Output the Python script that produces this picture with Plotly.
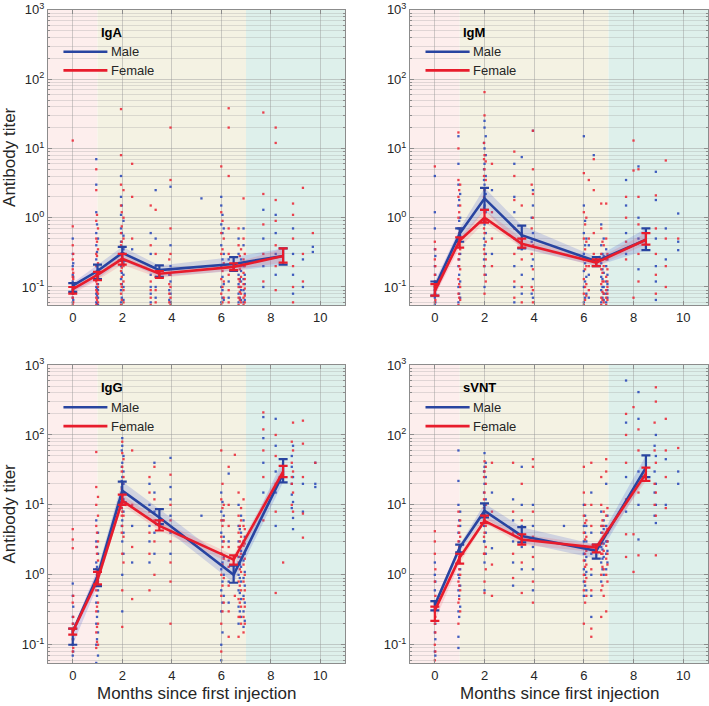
import plotly.graph_objects as go

# ---------------- data ----------------
MONTHS = [0, 1, 2, 3.5, 6.5, 8.5]
PANEL_NAMES = ["IgA", "IgM", "IgG", "sVNT"]

# geometric means (and CI bounds) per sex
IGA_MALE = [0.105, 0.17, 0.31, 0.175, 0.215, 0.28]
IGA_MALE_LO = [0.085, 0.13, 0.24, 0.14, 0.17, 0.21]
IGA_MALE_HI = [0.114, 0.21, 0.38, 0.205, 0.27, 0.36]
IGA_FEMALE = [0.093, 0.15, 0.255, 0.155, 0.195, 0.28]
IGA_FEMALE_LO = [0.08, 0.125, 0.21, 0.135, 0.175, 0.225]
IGA_FEMALE_HI = [0.1, 0.165, 0.30, 0.17, 0.22, 0.36]

IGM_MALE = [0.1, 0.59, 1.9, 0.56, 0.235, 0.48]
IGM_MALE_LO = [0.075, 0.45, 1.3, 0.36, 0.2, 0.34]
IGM_MALE_HI = [0.12, 0.7, 2.7, 0.77, 0.27, 0.7]
IGM_FEMALE = [0.088, 0.47, 1.0, 0.42, 0.225, 0.48]
IGM_FEMALE_LO = [0.075, 0.37, 0.85, 0.37, 0.2, 0.41]
IGM_FEMALE_HI = [0.11, 0.52, 1.3, 0.5, 0.25, 0.6]

IGG_MALE = [0.155, 0.95, 16.0, 6.6, 1.0, 28.0]
IGG_MALE_LO = [0.1, 0.69, 10.9, 5.3, 0.77, 21.0]
IGG_MALE_HI = [0.17, 1.2, 21.5, 8.7, 1.35, 45.0]
IGG_FEMALE = [0.155, 0.85, 11.5, 5.0, 1.65, 30.0]
IGG_FEMALE_LO = [0.14, 0.73, 10.0, 4.3, 1.4, 25.0]
IGG_FEMALE_HI = [0.17, 1.1, 14.0, 6.0, 1.9, 36.0]

SVNT_MALE = [0.37, 2.45, 8.2, 3.6, 2.2, 34.0]
SVNT_MALE_LO = [0.31, 2.1, 6.6, 2.9, 1.7, 25.0]
SVNT_MALE_HI = [0.42, 2.7, 10.5, 4.8, 2.7, 51.0]
SVNT_FEMALE = [0.31, 1.76, 5.9, 3.2, 2.45, 28.0]
SVNT_FEMALE_LO = [0.22, 1.45, 5.5, 2.7, 2.1, 22.0]
SVNT_FEMALE_HI = [0.35, 2.0, 7.0, 3.8, 2.7, 34.0]

# individual measurements, grouped by sampling column (x positions)
IGA_COL_X = [0, 0.95, 1.95, 2.4, 3.15, 3.35, 3.95, 5.2, 6.0, 6.3, 6.7, 6.9, 7.7, 8.2, 8.9, 9.3, 9.7,
             1.02, 2.05, 6.05, 6.8, 0.02, 0.98, 1.98, 6.1, 6.75, 6.95, 3.9]
IGA_MALE_PTS = [
    [0.06, 0.08, 0.1, 0.12, 0.15, 0.2, 0.3, 0.5, 0.07],
    [0.06, 0.08, 0.1, 0.15, 0.25, 0.4, 0.6, 1.2, 3, 7],
    [0.06, 0.09, 0.13, 0.2, 0.3, 0.45, 0.7, 1.1, 2, 4],
    [0.35],
    [0.06, 0.08, 0.1, 0.15, 0.3, 0.6],
    [0.07, 0.1, 0.2, 0.5, 2.5],
    [0.06, 0.08, 0.12, 0.2, 0.4, 2.8],
    [1.9],
    [0.06, 0.1, 0.2, 0.4, 0.8, 1.5, 2],
    [0.07, 0.12, 0.25],
    [0.06, 0.08, 0.11, 0.15, 0.3, 0.5],
    [0.06, 0.09, 0.13, 0.2, 0.4, 0.7],
    [0.1, 0.2, 0.5, 1.3],
    [0.15, 0.3, 0.6, 1.1],
    [0.08, 0.15, 0.3, 0.7],
    [0.1, 0.25],
    [0.38, 0.32],
    [0.055, 0.07, 0.09, 0.11, 0.13, 0.18, 0.5],
    [0.065, 0.1, 0.15, 0.22, 0.35, 0.55, 0.9],
    [0.07, 0.09, 0.14, 0.25, 0.6, 1.1],
    [0.065, 0.09, 0.12, 0.17, 0.25],
    [0.065, 0.09, 0.11, 0.14, 0.22],
    [0.058, 0.075, 0.095, 0.13, 0.2, 0.32, 0.8],
    [0.07, 0.11, 0.16, 0.24, 0.38, 0.6, 1.5],
    [0.065, 0.11, 0.3, 0.7],
    [0.07, 0.1, 0.13, 0.2],
    [0.065, 0.08, 0.11, 0.15],
    [0.065, 0.09, 0.15],
]
IGA_FEMALE_PTS = [
    [0.055, 0.07, 0.09, 0.11, 0.14, 0.18, 0.25, 0.4, 0.75, 13],
    [0.055, 0.07, 0.09, 0.12, 0.2, 0.3, 0.5, 0.9, 2.5, 5],
    [0.055, 0.08, 0.11, 0.17, 0.25, 0.4, 0.6, 1.5, 3, 8, 37],
    [0.5, 2, 6],
    [0.055, 0.07, 0.09, 0.12, 0.2, 0.4, 1.5],
    [0.06, 0.09, 0.14, 0.3, 1.3],
    [0.055, 0.07, 0.1, 0.15, 0.3, 0.7, 3.5, 20],
    [],
    [0.055, 0.08, 0.13, 0.3, 0.6, 1.2, 5.5],
    [0.06, 0.09, 0.15, 0.3, 0.7, 4, 20, 38],
    [0.055, 0.07, 0.1, 0.13, 0.2, 0.4, 0.7],
    [0.055, 0.07, 0.11, 0.16, 0.25, 0.5, 1.9],
    [0.12, 0.3, 0.8, 2.2, 33],
    [0.09, 0.2, 0.4, 0.9, 1.8, 12, 20],
    [0.06, 0.1, 0.2, 0.5, 1.1, 1.6],
    [0.12, 0.3, 2.7],
    [0.6],
    [0.06, 0.08, 0.1, 0.14, 0.17, 0.22, 0.35, 0.7],
    [0.06, 0.09, 0.12, 0.2, 0.3, 0.5, 1.0, 2.5],
    [0.06, 0.1, 0.17, 0.35, 0.9],
    [0.06, 0.08, 0.1, 0.14, 0.2, 0.35],
    [0.06, 0.08, 0.1, 0.13, 0.16, 0.3],
    [0.065, 0.085, 0.11, 0.16, 0.28, 0.45, 1.1],
    [0.065, 0.1, 0.14, 0.19, 0.28, 0.45, 0.75, 1.2],
    [0.07, 0.12, 0.22, 0.5],
    [0.065, 0.085, 0.12, 0.18, 0.28],
    [0.06, 0.075, 0.095, 0.13, 0.2, 0.3],
    [0.06, 0.08, 0.11, 0.18, 0.25],
]

IGM_COL_X = [0, 0.95, 2.0, 2.3, 3.2, 3.5, 3.95, 6.0, 6.2, 6.4, 6.7, 6.9, 7.7, 8.0, 8.2, 8.9, 9.3, 9.8,
             1.02, 2.05, 6.05, 6.8, 0.02, 0.98, 1.98, 6.1, 6.75, 6.95, 3.9]
IGM_MALE_PTS = [
    [0.055, 0.07, 0.09, 0.12, 0.2, 0.35, 0.7, 1.2, 4],
    [0.06, 0.1, 0.2, 0.4, 0.7, 1.5, 3, 6, 15],
    [0.1, 0.2, 0.4, 0.8, 1.5, 3, 6, 10, 20, 25],
    [0.3, 2.5],
    [0.06, 0.1, 0.2, 0.5, 1.2, 2, 6],
    [0.08, 0.15, 0.35, 7.5],
    [0.07, 0.13, 0.25, 0.6, 1.5, 2.5, 18],
    [0.06, 0.1, 0.17, 0.3, 0.6, 1.5, 15],
    [0.07, 0.15, 0.4],
    [8],
    [0.06, 0.09, 0.14, 0.22, 0.4, 0.8],
    [0.06, 0.08, 0.12, 0.2, 0.35],
    [0.3, 0.6, 1.5, 3.5],
    [],
    [0.18, 0.5, 1, 5.5],
    [0.065, 0.12, 0.2, 0.5, 1.8, 4.6],
    [0.25, 0.7],
    [1.15, 0.34, 0.45],
    [0.07, 0.12, 0.3, 0.55, 1, 2.2],
    [0.15, 0.3, 0.6, 1.2, 2.2, 4, 8, 15],
    [0.07, 0.12, 0.22, 0.4, 0.9],
    [0.065, 0.08, 0.1, 0.16, 0.28, 0.5],
    [0.06, 0.08, 0.1, 0.15, 0.28],
    [0.08, 0.15, 0.25, 0.5, 0.9, 1.8],
    [0.25, 0.5, 0.9, 1.8, 3.5, 5, 12],
    [0.08, 0.14, 0.25, 0.5],
    [0.07, 0.1, 0.13, 0.18, 0.3],
    [0.07, 0.09, 0.11, 0.15, 0.25],
    [0.08, 0.2, 0.45, 1],
]
IGM_FEMALE_PTS = [
    [0.06, 0.08, 0.1, 0.15, 0.25, 0.45, 5.5],
    [0.055, 0.08, 0.13, 0.25, 0.5, 1, 2, 3.5, 10, 17],
    [0.08, 0.15, 0.3, 0.6, 1.2, 2.5, 5, 8, 30, 65],
    [0.2, 0.5, 1.2, 6],
    [0.07, 0.12, 0.3, 0.7, 1.8, 4, 9],
    [0.06, 0.1, 0.25, 0.6, 1.5],
    [0.06, 0.09, 0.18, 0.4, 1, 2.2, 5, 18],
    [0.055, 0.08, 0.13, 0.25, 0.5, 1.2, 4.4],
    [0.09, 0.2, 0.5, 3.5],
    [0.3, 0.6, 2.5, 7],
    [0.055, 0.07, 0.11, 0.18, 0.3, 0.7, 1.6],
    [0.055, 0.07, 0.09, 0.14, 0.25, 0.5, 1.6],
    [0.25, 0.45, 1, 2],
    [13, 4.8, 0.07],
    [0.12, 0.3, 0.8, 2, 5],
    [0.08, 0.15, 0.3, 0.7, 2.1],
    [0.1, 0.2, 0.5, 6.7],
    [0.5],
    [0.065, 0.1, 0.18, 0.35, 0.7, 1.5, 3],
    [0.12, 0.25, 0.45, 0.9, 1.8, 3.5, 6.5],
    [0.065, 0.1, 0.18, 0.35, 0.8],
    [0.06, 0.08, 0.12, 0.2, 0.4],
    [0.065, 0.09, 0.12, 0.2, 0.35],
    [0.07, 0.11, 0.2, 0.3, 0.6, 1.2, 2.5],
    [0.2, 0.35, 0.7, 1.4, 2, 4, 7, 12],
    [0.075, 0.11, 0.2, 0.45, 1],
    [0.065, 0.085, 0.12, 0.16, 0.25, 0.45],
    [0.065, 0.08, 0.1, 0.12, 0.18, 0.3],
    [0.1, 0.3, 0.7, 3],
]

IGG_COL_X = [0, 0.95, 2.0, 2.4, 3.1, 3.3, 3.95, 5.2, 6.0, 6.3, 6.55, 6.7, 6.9, 7.7, 8.2, 8.5, 8.9, 9.3, 9.8,
             1.02, 2.05, 6.05, 6.8, 0.02, 0.98, 1.98, 6.1, 6.75, 6.95, 8.85]
IGG_MALE_PTS = [
    [0.07, 0.1, 0.15, 0.25, 0.5, 0.75],
    [0.055, 0.1, 0.2, 0.4, 0.8, 1.5, 3, 6],
    [0.3, 1, 3, 6, 10, 15, 25, 40, 70, 90],
    [1.5, 5],
    [1.5, 3, 5, 10, 20],
    [2, 4, 8, 15, 40],
    [2, 4, 7, 12, 18, 47],
    [7],
    [0.06, 0.1, 0.3, 0.6, 1.2, 2, 4, 8, 15],
    [0.4, 0.8, 1.6, 3, 28],
    [],
    [0.2, 0.35, 0.6, 1, 1.8, 3, 5, 10],
    [0.18, 0.3, 0.5, 0.9, 1.6, 3, 6],
    [15, 40, 90, 180],
    [5, 15, 30, 70, 170],
    [],
    [4.5, 6.5, 11, 25, 70],
    [8, 20],
    [40, 18, 20],
    [0.07, 0.15, 0.3, 0.6, 1.1, 2, 4],
    [2, 4, 8, 12, 20, 30, 50],
    [0.15, 0.4, 0.8, 1.5, 3, 6, 11],
    [0.25, 0.45, 0.8, 1.3, 2.2, 4, 7],
    [0.08, 0.12, 0.2, 0.35],
    [0.12, 0.25, 0.5, 0.9, 1.3, 2.5],
    [5, 9, 14, 18, 22, 35, 60],
    [0.5, 1, 1.8, 3.5, 7],
    [0.3, 0.55, 0.9, 1.4, 2.5, 4.5],
    [0.22, 0.4, 0.7, 1.1, 2, 3.5],
    [9, 14, 20, 35, 50],
]
IGG_FEMALE_PTS = [
    [0.08, 0.12, 0.2, 0.4, 2.4, 3.2, 4.5],
    [0.09, 0.15, 0.3, 0.6, 1.2, 2.5, 5, 10, 18, 57],
    [0.18, 0.6, 2, 5, 8, 12, 20, 35, 55, 80],
    [0.45, 2.5, 10, 60],
    [0.6, 2, 4, 8, 15, 25],
    [1, 3, 6, 12, 35],
    [0.2, 0.8, 1.5, 3, 6, 10, 27],
    [],
    [0.08, 0.2, 0.5, 1, 2, 3.5, 6, 12, 60],
    [0.13, 0.3, 0.7, 1.3, 2.5, 5, 10, 35],
    [0.5, 52],
    [0.13, 0.25, 0.45, 0.8, 1.5, 2.5, 4, 7, 15],
    [0.15, 0.25, 0.45, 0.8, 1.4, 2.6, 5, 12],
    [6, 25, 60, 120, 210],
    [0.55, 8, 20, 50, 100],
    [1.5],
    [8, 15, 30, 60, 150],
    [3.4, 7.5, 25, 75, 160],
    [40],
    [0.1, 0.2, 0.4, 0.8, 1.6, 3, 7, 13],
    [1.5, 3.5, 7, 10, 15, 25, 45],
    [0.3, 0.7, 1.4, 2.5, 5, 9, 20],
    [0.2, 0.35, 0.6, 1.1, 2, 3.5, 6, 9],
    [0.09, 0.14, 0.25, 0.5],
    [0.11, 0.18, 0.35, 0.7, 1, 2, 4],
    [4, 7, 9, 11, 13, 17, 30],
    [0.4, 0.9, 1.7, 3, 6, 10],
    [0.25, 0.4, 0.7, 1.2, 1.8, 3, 5],
    [0.2, 0.35, 0.6, 1, 1.7, 2.8, 4.5],
    [10, 20, 25, 40, 80],
]

SVNT_COL_X = [0, 0.95, 2.0, 2.3, 3.15, 3.5, 3.95, 5.2, 6.0, 6.3, 6.7, 6.9, 7.7, 8.0, 8.2, 8.9, 9.3, 9.8,
              1.02, 2.05, 6.05, 6.8, 0.02, 0.98, 1.98, 6.1, 6.75, 6.95, 8.85]
SVNT_MALE_PTS = [
    [0.05, 0.08, 0.15, 0.3, 0.6, 1, 1.5],
    [0.09, 0.13, 0.3, 0.6, 1, 2, 4, 10, 22, 60],
    [0.6, 1.5, 3, 6, 10, 20, 35, 55],
    [2.4, 15],
    [0.7, 1.5, 3, 6, 12],
    [1.2, 2.5, 5, 10, 35],
    [0.6, 1.2, 2.5, 5, 10],
    [5],
    [0.5, 0.8, 1.2, 2, 3, 5, 10],
    [0.25, 0.5, 1, 2, 4, 15],
    [0.8, 1.5, 2.5, 4, 8],
    [1.2, 2, 3, 5, 20],
    [8, 25, 150, 600],
    [],
    [3.2, 10, 30, 170, 410],
    [5.5, 10, 20, 50, 100],
    [10, 45],
    [20, 30],
    [0.35, 0.7, 1.2, 2.5, 5, 8],
    [2, 4, 7, 12, 25, 40],
    [0.7, 1, 1.6, 2.5, 4, 7],
    [1, 1.8, 2.8, 4.5, 6],
    [0.07, 0.12, 0.2, 0.4, 0.8],
    [0.25, 0.5, 0.9, 1.5, 3, 6],
    [3, 5, 8, 10, 15, 30],
    [0.6, 1.1, 1.8, 3, 5],
    [1.2, 1.7, 2.3, 3.2, 5],
    [1.5, 2.2, 3, 4, 7],
    [7, 15, 30, 70],
]
SVNT_FEMALE_PTS = [
    [0.06, 0.1, 0.2, 0.4, 0.8, 2, 3, 4.2],
    [0.05, 0.2, 0.4, 0.8, 1.5, 3, 5, 8],
    [0.55, 0.8, 2, 4, 8, 15, 30, 42],
    [0.5, 1.4, 8, 40],
    [0.9, 2, 4, 8, 40],
    [0.55, 1.5, 3, 6, 20],
    [0.4, 0.8, 1.8, 3.5, 8, 35, 45],
    [],
    [0.2, 0.6, 1, 1.6, 2.5, 4, 7, 15, 35],
    [0.13, 0.17, 0.6, 1.2, 2.5, 5, 10, 40],
    [0.25, 0.6, 1, 2, 3, 5, 10, 25],
    [0.3, 1, 1.7, 2.6, 4, 7, 30, 45],
    [1.8, 3.8, 12, 40, 100, 200],
    [1.1, 3.8, 250],
    [1.9, 15, 60, 120],
    [1.9, 7, 15, 40, 300, 480],
    [9, 25, 60, 170],
    [65],
    [0.3, 0.6, 1, 2, 3.5, 6],
    [1.2, 2.5, 5, 10, 20, 35],
    [0.4, 0.8, 1.3, 2, 3.2, 5.5, 10],
    [0.5, 1.2, 2.2, 3.5, 5, 8],
    [0.08, 0.15, 0.25, 0.5, 1.2],
    [0.45, 0.7, 1.2, 1.8, 2.5, 4],
    [2, 3.5, 6, 7, 9, 12, 25],
    [0.5, 0.9, 1.4, 2.2, 3.5, 6],
    [0.7, 1.3, 2, 2.8, 4, 6],
    [0.8, 1.4, 2, 3, 4.5, 9],
    [10, 20, 60, 150],
]

X_TICKS = [0, 2, 4, 6, 8, 10]
Y_TICKS = [0.1, 1, 10, 100, 1000]
Y_TICK_TEXT = ["10<sup>-1</sup>", "10<sup>0</sup>", "10<sup>1</sup>", "10<sup>2</sup>", "10<sup>3</sup>"]
PHASES = [(-1, 1), (1, 7), (7, 11)]
X_TITLE = "Months since first injection"
Y_TITLE = "Antibody titer"

# ---------------- style ----------------
FONT = "Arial, Liberation Sans, sans-serif"
BLUE = "rgb(40,68,160)"
RED = "rgb(232,28,44)"
BLUE_DOT = "rgba(45,75,185,0.9)"
RED_DOT = "rgba(235,45,60,0.9)"
BLUE_BAND = "rgba(80,100,210,0.22)"
RED_BAND = "rgba(240,80,100,0.18)"
PHASE_COLORS = ["rgb(253,238,237)", "rgb(244,242,227)", "rgb(222,240,235)"]
GRID = "rgba(150,150,150,0.45)"
MINOR_GRID = "rgba(150,150,150,0.28)"
AX = "rgb(140,140,140)"
TXT = "rgb(38,38,38)"

XD = [[0.0677, 0.4866], [0.5783, 0.9986], [0.0677, 0.4866], [0.5783, 0.9986]]
YD = [[0.568, 0.986], [0.568, 0.986], [0.061, 0.483], [0.061, 0.483]]
Y_LOG_MIN = -1.26

panels = [
    (IGA_MALE, IGA_MALE_LO, IGA_MALE_HI, IGA_FEMALE, IGA_FEMALE_LO, IGA_FEMALE_HI,
     IGA_COL_X, IGA_MALE_PTS, IGA_FEMALE_PTS),
    (IGM_MALE, IGM_MALE_LO, IGM_MALE_HI, IGM_FEMALE, IGM_FEMALE_LO, IGM_FEMALE_HI,
     IGM_COL_X, IGM_MALE_PTS, IGM_FEMALE_PTS),
    (IGG_MALE, IGG_MALE_LO, IGG_MALE_HI, IGG_FEMALE, IGG_FEMALE_LO, IGG_FEMALE_HI,
     IGG_COL_X, IGG_MALE_PTS, IGG_FEMALE_PTS),
    (SVNT_MALE, SVNT_MALE_LO, SVNT_MALE_HI, SVNT_FEMALE, SVNT_FEMALE_LO, SVNT_FEMALE_HI,
     SVNT_COL_X, SVNT_MALE_PTS, SVNT_FEMALE_PTS),
]

minor_vals = []
for dec in [0.01, 0.1, 1, 10, 100]:
    for k in range(2, 10):
        minor_vals.append(k * dec)

fig = go.Figure()
shapes = []
annotations = []

for i, (m, mlo, mhi, f, flo, fhi, colx, mpts, fpts) in enumerate(panels):
    sfx = "" if i == 0 else str(i + 1)
    xa, ya = "x" + sfx, "y" + sfx

    # scatter dots
    for pts, col in [(mpts, BLUE_DOT), (fpts, RED_DOT)]:
        xs = [x for x, ys in zip(colx, pts) for _ in ys]
        ys = [y for ys in pts for y in ys]
        fig.add_trace(go.Scatter(x=xs, y=ys, mode="markers", xaxis=xa, yaxis=ya,
                                 marker=dict(size=2.3, color=col, symbol="square"),
                                 showlegend=False, hoverinfo="skip"))
    # confidence bands
    for lo, hi, col in [(mlo, mhi, BLUE_BAND), (flo, fhi, RED_BAND)]:
        fig.add_trace(go.Scatter(x=MONTHS + MONTHS[::-1], y=hi + lo[::-1], mode="lines",
                                 fill="toself", fillcolor=col, line=dict(width=0),
                                 xaxis=xa, yaxis=ya, showlegend=False, hoverinfo="skip"))
    # mean lines with error bars
    for vals, lo, hi, col in [(m, mlo, mhi, BLUE), (f, flo, fhi, RED)]:
        fig.add_trace(go.Scatter(
            x=MONTHS, y=vals, mode="lines", xaxis=xa, yaxis=ya,
            line=dict(color=col, width=2.6), showlegend=False,
            error_y=dict(type="data", symmetric=False,
                         array=[h - v for h, v in zip(hi, vals)],
                         arrayminus=[v - l for v, l in zip(vals, lo)],
                         color=col, thickness=2.2, width=4.5)))

    # phase backgrounds
    for (x0, x1), c in zip(PHASES, PHASE_COLORS):
        shapes.append(dict(type="rect", xref=xa, yref=ya + " domain", x0=x0, x1=x1, y0=0, y1=1,
                           fillcolor=c, line=dict(width=0), layer="below"))

    # in-panel legend
    annotations.append(dict(text="<b>" + PANEL_NAMES[i] + "</b>", xref=xa + " domain", yref=ya + " domain",
                            x=0.172, y=0.925, xanchor="left", yanchor="middle", showarrow=False,
                            font=dict(family=FONT, size=13, color="black")))
    for lab, col, yy in [("Male", BLUE, 0.858), ("Female", RED, 0.795)]:
        shapes.append(dict(type="line", xref=xa + " domain", yref=ya + " domain",
                           x0=0.052, x1=0.2, y0=yy, y1=yy, line=dict(color=col, width=2.6)))
        annotations.append(dict(text=lab, xref=xa + " domain", yref=ya + " domain",
                                x=0.205, y=yy, xanchor="left", yanchor="middle", showarrow=False,
                                font=dict(family=FONT, size=13, color=TXT)))

    # axis titles
    if i >= 2:
        annotations.append(dict(text=X_TITLE, xref="paper", yref="paper",
                                x=(XD[i][0] + XD[i][1]) / 2, y=0.0175, xanchor="center", yanchor="middle",
                                showarrow=False, font=dict(family=FONT, size=17, color=TXT)))
    if i % 2 == 0:
        annotations.append(dict(text=Y_TITLE, xref="paper", yref="paper", textangle=-90,
                                x=0.0134, y=(YD[i][0] + YD[i][1]) / 2, xanchor="center", yanchor="middle",
                                showarrow=False, font=dict(family=FONT, size=17, color=TXT)))

    xaxis = dict(domain=XD[i], anchor=ya, range=[-1, 11], tickvals=X_TICKS, automargin=False,
                 showgrid=True, gridcolor=GRID, gridwidth=1, zeroline=False,
                 showline=True, linecolor=AX, linewidth=1, mirror="ticks",
                 ticks="inside", ticklen=4, tickcolor=AX,
                 tickfont=dict(family=FONT, size=13, color=TXT))
    yaxis = dict(domain=YD[i], anchor=xa, type="log", range=[Y_LOG_MIN, 3], automargin=False,
                 tickvals=Y_TICKS, ticktext=Y_TICK_TEXT,
                 showgrid=True, gridcolor=GRID, gridwidth=1, zeroline=False,
                 showline=True, linecolor=AX, linewidth=1, mirror="ticks",
                 ticks="inside", ticklen=4, tickcolor=AX,
                 tickfont=dict(family=FONT, size=13, color=TXT),
                 minor=dict(tickvals=minor_vals, showgrid=True, gridcolor=MINOR_GRID,
                            ticks="inside", ticklen=2, tickcolor=AX))
    fig.layout["xaxis" + sfx] = xaxis
    fig.layout["yaxis" + sfx] = yaxis

fig.update_layout(width=709, height=706, margin=dict(l=0, r=0, t=0, b=0, autoexpand=False),
                  paper_bgcolor="white", plot_bgcolor="white",
                  shapes=shapes, annotations=annotations,
                  font=dict(family=FONT, color=TXT))

fig.write_html("out.html", config={"displayModeBar": False},
               post_script="document.body.style.margin='0';document.body.style.overflow='hidden';")
